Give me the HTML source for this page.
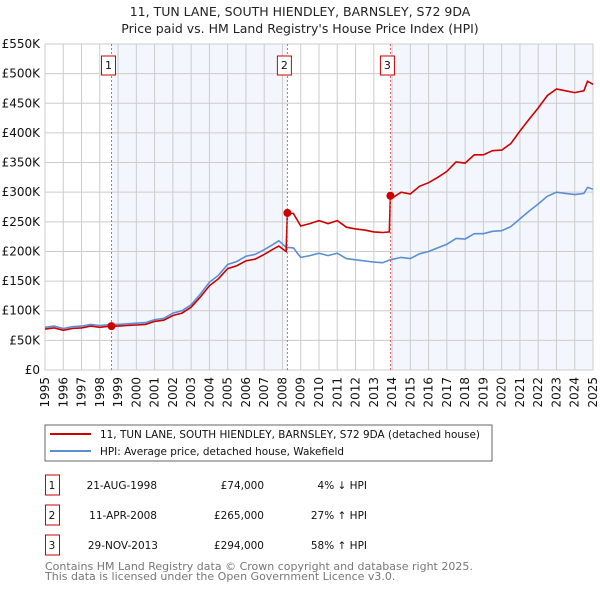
<!DOCTYPE html>
<html><head><meta charset="utf-8"><style>
body{margin:0;background:#fff;font-family:"Liberation Sans","DejaVu Sans",sans-serif;}
svg text{font-family:"DejaVu Sans","Liberation Sans",sans-serif;}
</style></head><body>
<svg id="c" width="600" height="590" xmlns="http://www.w3.org/2000/svg">
<text x="300" y="16" text-anchor="middle" font-size="12.5" fill="#222">11, TUN LANE, SOUTH HIENDLEY, BARNSLEY, S72 9DA</text>
<text x="300" y="33" text-anchor="middle" font-size="12.5" fill="#222">Price paid vs. HM Land Registry's House Price Index (HPI)</text>
<g id="plot"></g>
<rect x="45" y="425" width="447" height="36" fill="#fff" stroke="#666"/>
<line x1="50" y1="434" x2="91" y2="434" stroke="#cc0000" stroke-width="2"/>
<text x="100" y="438" font-size="10.5" textLength="380" lengthAdjust="spacingAndGlyphs" fill="#111">11, TUN LANE, SOUTH HIENDLEY, BARNSLEY, S72 9DA (detached house)</text>
<line x1="50" y1="451" x2="91" y2="451" stroke="#5b8fd4" stroke-width="2"/>
<text x="100" y="455" font-size="10.5" textLength="244" lengthAdjust="spacingAndGlyphs" fill="#111">HPI: Average price, detached house, Wakefield</text>
<g font-size="10.5" fill="#111">
<g>
<rect x="45.5" y="475" width="14" height="20" fill="#fff" stroke="#cc0000"/><text x="52" y="489" text-anchor="middle">1</text>
<text x="157" y="489" text-anchor="end">21-AUG-1998</text><text x="264" y="489" text-anchor="end">£74,000</text><text x="367" y="489" text-anchor="end">4% ↓ HPI</text></g>
<g>
<rect x="45.5" y="505" width="14" height="20" fill="#fff" stroke="#cc0000"/><text x="52" y="519" text-anchor="middle">2</text>
<text x="157" y="519" text-anchor="end">11-APR-2008</text><text x="264" y="519" text-anchor="end">£265,000</text><text x="367" y="519" text-anchor="end">27% ↑ HPI</text></g>
<g>
<rect x="45.5" y="535" width="14" height="20" fill="#fff" stroke="#cc0000"/><text x="52" y="549" text-anchor="middle">3</text>
<text x="158" y="549" text-anchor="end">29-NOV-2013</text><text x="264" y="549" text-anchor="end">£294,000</text><text x="367" y="549" text-anchor="end">58% ↑ HPI</text></g>
</g>
<text x="45" y="570" font-size="11" fill="#777">Contains HM Land Registry data © Crown copyright and database right 2025.</text>
<text x="45" y="580" font-size="11" fill="#777">This data is licensed under the Open Government Licence v3.0.</text>
</svg>
<script>
const yTicks=[0,50,100,150,200,250,300,350,400,450,500,550];
const yLabels=["£0","£50K","£100K","£150K","£200K","£250K","£300K","£350K","£400K","£450K","£500K","£550K"];
const xYears=[1995,1996,1997,1998,1999,2000,2001,2002,2003,2004,2005,2006,2007,2008,2009,2010,2011,2012,2013,2014,2015,2016,2017,2018,2019,2020,2021,2022,2023,2024,2025];
const hpiT=[1995,1995.5,1996,1996.5,1997,1997.5,1998,1998.6,1999,1999.5,2000,2000.5,2001,2001.5,2002,2002.5,2003,2003.5,2004,2004.5,2005,2005.5,2006,2006.5,2007,2007.5,2007.8,2008.2,2008.6,2009,2009.5,2010,2010.5,2011,2011.5,2012,2012.5,2013,2013.5,2013.9,2014.5,2015,2015.5,2016,2016.5,2017,2017.5,2018,2018.5,2019,2019.5,2020,2020.5,2021,2021.5,2022,2022.5,2023,2023.5,2024,2024.5,2024.7,2025];
const hpiV=[72,74,70,73,74,77,75,77,77,78,79,80,85,87,96,100,110,128,148,160,178,183,192,195,203,212,218,207,206,190,193,197,193,197,188,186,184,182,181,186,190,188,196,200,206,212,222,221,230,230,234,235,242,255,268,280,293,300,298,296,298,308,305];
const priceT=[1995,1995.5,1996,1996.5,1997,1997.5,1998,1998.6,1999,1999.5,2000,2000.5,2001,2001.5,2002,2002.5,2003,2003.5,2004,2004.5,2005,2005.5,2006,2006.5,2007,2007.5,2007.8,2008.2,2008.27,2008.6,2009,2009.5,2010,2010.5,2011,2011.5,2012,2012.5,2013,2013.5,2013.85,2013.91,2014,2014.5,2015,2015.5,2016,2016.5,2017,2017.5,2018,2018.5,2019,2019.5,2020,2020.5,2021,2021.5,2022,2022.5,2023,2023.5,2024,2024.5,2024.7,2025];
const priceV=[69,71,67,70,71,74,72,74,74,75,76,77,82,84,92,96,106,123,142,154,171,176,184,187,195,204,209,200,265,264,243,247,252,247,252,241,238,236,233,232,233,294,290,300,297,310,316,325,335,351,349,363,363,370,371,382,403,423,442,463,474,471,468,471,487,482];
const saleT=[1998.64,2008.27,2013.91];
const saleV=[74,265,294];
const saleLabels=["1","2","3"];

const X0=45,X1=593,Y0=370,Y1=44;
const x=t=>X0+(t-1995)/30*(X1-X0);
const y=v=>Y0-v/550*(Y0-Y1);
const NS="http://www.w3.org/2000/svg";
const g=document.getElementById('plot');
function mk(tag,attrs,parent){const e=document.createElementNS(NS,tag);for(const k in attrs)e.setAttribute(k,attrs[k]);(parent||g).appendChild(e);return e;}

let e=mk('rect',{x:x(saleT[0]),y:Y1,width:x(saleT[1])-x(saleT[0]),height:Y0-Y1,fill:'#eef2fc',opacity:0.7});


e=mk('rect',{x:x(saleT[2]),y:Y1,width:X1-x(saleT[2]),height:Y0-Y1,fill:'#eef2fc',opacity:0.7});



yTicks.forEach((v,i)=>{
  let l=mk('line',{x1:X0,x2:X1,y1:y(v),y2:y(v),stroke:'#ccc','stroke-width':1});
  
  
  let t=mk('text',{x:40,y:y(v)+4,'text-anchor':'end','font-size':12,fill:'#111'});
  t.textContent=yLabels[i];
  
  
});
xYears.forEach(yr=>{
  let l=mk('line',{x1:x(yr),x2:x(yr),y1:Y1,y2:Y0,stroke:'#ccc','stroke-width':1});
  
  
  let t=mk('text',{x:0,y:0,'text-anchor':'end','font-size':12,fill:'#111',transform:`translate(${x(yr)+4},377) rotate(-90)`});
  t.textContent=yr;
  
  
});
mk('rect',{x:X0,y:Y1,width:X1-X0,height:Y0-Y1,fill:'none',stroke:'#ccc'});

const pts=(T,V)=>T.map((t,i)=>x(t).toFixed(1)+','+y(V[i]).toFixed(1)).join(' ');
e=mk('polyline',{points:pts(hpiT,hpiV),fill:'none',stroke:'#5b8fd4','stroke-width':1.6});


e=mk('polyline',{points:pts(priceT,priceV),fill:'none',stroke:'#cc0000','stroke-width':1.6});



saleT.forEach((t,i)=>{
  let l=mk('line',{x1:x(t),x2:x(t),y1:Y1,y2:Y0,stroke:'#e06060','stroke-width':1,'stroke-dasharray':'2,2'});
  
  
  let c=mk('circle',{cx:x(t),cy:y(saleV[i]),r:4,fill:'#cc0000'});
  
  
  let b=mk('rect',{x:x(t)-10,y:56,width:14,height:19,fill:'#fff',stroke:'#cc0000'});
  
  
  let tx=mk('text',{x:x(t)-3,y:69,'text-anchor':'middle','font-size':11,fill:'#111'});
  tx.textContent=saleLabels[i];
  
  
});
</script>
</body></html>
